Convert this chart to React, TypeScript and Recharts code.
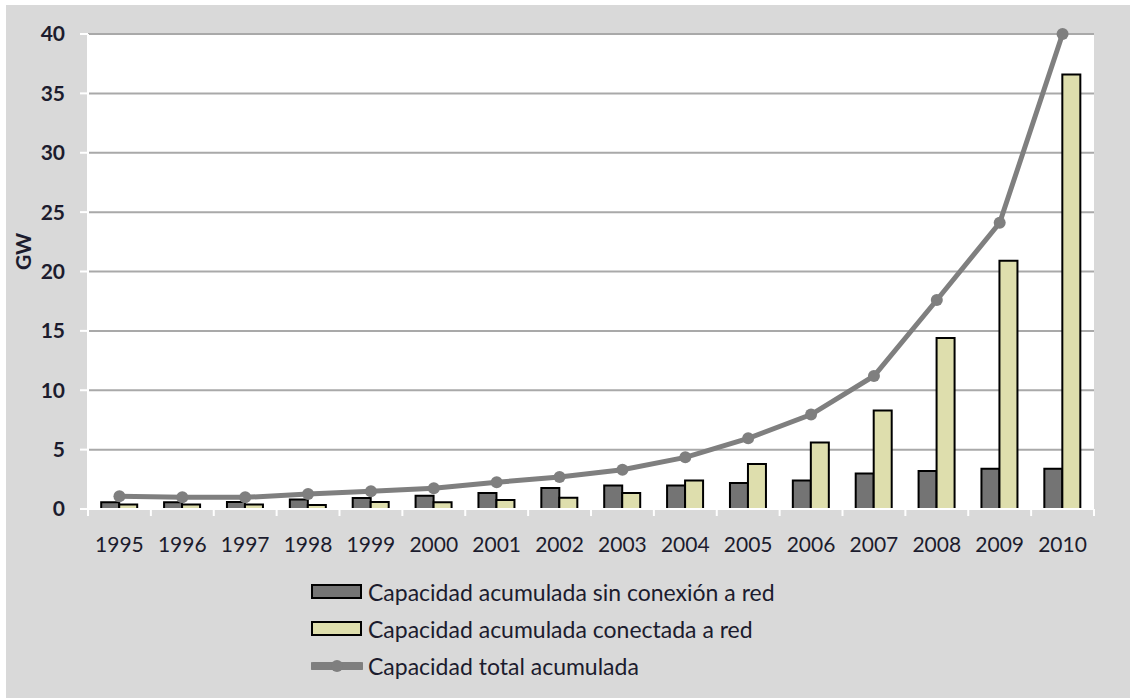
import React from 'react';
import {
    ComposedChart,
    Bar,
    Line,
    XAxis,
    YAxis,
    CartesianGrid,
    Legend,
} from 'recharts';

// Capacidad fotovoltaica acumulada (GW)
const years = ['1995', '1996', '1997', '1998', '1999', '2000', '2001', '2002', '2003', '2004', '2005', '2006', '2007', '2008', '2009', '2010'];
const offGrid = [0.56, 0.56, 0.6, 0.8, 0.93, 1.12, 1.35, 1.77, 1.97, 1.97, 2.2, 2.4, 3.0, 3.2, 3.4, 3.4];
const onGrid = [0.37, 0.37, 0.37, 0.34, 0.6, 0.56, 0.76, 0.95, 1.35, 2.4, 3.8, 5.6, 8.3, 14.4, 20.9, 36.6];
const total = [1.07, 0.98, 0.98, 1.26, 1.49, 1.74, 2.25, 2.7, 3.3, 4.35, 5.95, 7.95, 11.2, 17.6, 24.1, 40.0];
const yTicks = [0, 5, 10, 15, 20, 25, 30, 35, 40];

const seriesNames = {
    offGrid: 'Capacidad acumulada sin conexión a red',
    onGrid: 'Capacidad acumulada conectada a red',
    total: 'Capacidad total acumulada',
};

const data = years.map((year, i) => ({
    year,
    offGrid: offGrid[i],
    onGrid: onGrid[i],
    total: total[i],
}));

const FONT = 'Lato, "DejaVu Sans", sans-serif';
const TEXT = '#1c1c2e';
const GRAY_BAR = '#747474';
const YELLOW_BAR = '#dedead';
const LINE_GRAY = '#7f7f7f';

const YearTick = (props: any) => {
    const { x, y, payload } = props;
    const half = payload.offset || 0;
    const isLast = payload.index === years.length - 1;
    return (
        <g>
            <line x1={x - half} x2={x - half} y1={y} y2={y + 7} stroke="#fff" strokeWidth={2} />
            {isLast && (
                <line x1={x + half} x2={x + half} y1={y} y2={y + 7} stroke="#fff" strokeWidth={2} />
            )}
            <text x={x} y={y + 43} textAnchor="middle" fontFamily={FONT} fontSize={21} fill={TEXT}>
                {payload.value}
            </text>
        </g>
    );
};

const LegendContent = () => {
    const rows = [
        { key: 'offGrid', type: 'rect', color: GRAY_BAR },
        { key: 'onGrid', type: 'rect', color: YELLOW_BAR },
        { key: 'total', type: 'line', color: LINE_GRAY },
    ];
    return (
        <div style={{ fontFamily: FONT, fontSize: 23, color: TEXT, whiteSpace: 'nowrap' }}>
            {rows.map((r) => (
                <div key={r.key} style={{ display: 'flex', alignItems: 'center', height: 37 }}>
                    <svg width={52} height={20} style={{ marginRight: 5 }}>
                        {r.type === 'rect' ? (
                            <rect x={1} y={3} width={49} height={13} fill={r.color} stroke="#000" strokeWidth={2} />
                        ) : (
                            <g>
                                <line x1={2} x2={50} y1={10} y2={10} stroke={r.color} strokeWidth={8} strokeLinecap="round" />
                                <circle cx={26} cy={10} r={6} fill={r.color} />
                            </g>
                        )}
                    </svg>
                    <span>{seriesNames[r.key as keyof typeof seriesNames]}</span>
                </div>
            ))}
        </div>
    );
};

export default function App() {
    return (
        <div style={{ position: 'fixed', left: 0, top: 0, width: 1130, height: 698, background: '#fff' }}>
            <div style={{ position: 'absolute', left: 6, top: 5, width: 1124, height: 693, background: '#d9d9d9' }}>
                <ComposedChart
                    width={1124}
                    height={693}
                    data={data}
                    margin={{ top: 29, right: 36, bottom: 0, left: 0 }}
                    barCategoryGap="21%"
                    barGap={0}
                >
                    <CartesianGrid vertical={false} stroke="#a9a9a9" strokeWidth={2} fill="#ffffff" />
                    <XAxis
                        dataKey="year"
                        height={189}
                        axisLine={{ stroke: '#ffffff', strokeWidth: 2 }}
                        tickLine={false}
                        tickSize={0}
                        tickMargin={0}
                        interval={0}
                        tick={<YearTick />}
                    />
                    <YAxis
                        width={82}
                        domain={[0, 40]}
                        ticks={yTicks}
                        interval={0}
                        axisLine={{ stroke: '#ffffff', strokeWidth: 2 }}
                        tickLine={{ stroke: '#ffffff', strokeWidth: 2 }}
                        tickSize={8}
                        tickMargin={15}
                        tick={{ fontFamily: FONT, fontSize: 21, fontWeight: 700, fill: TEXT }}
                        label={{
                            content: ({ viewBox }: any) => {
                                const cx = viewBox.x + 16;
                                const cy = viewBox.y + viewBox.height / 2 - 20;
                                return (
                                    <text
                                        x={cx}
                                        y={cy}
                                        transform={`rotate(-90, ${cx}, ${cy})`}
                                        textAnchor="middle"
                                        dominantBaseline="central"
                                        fontFamily={FONT}
                                        fontSize={21}
                                        fontWeight={700}
                                        fill={TEXT}
                                    >
                                        GW
                                    </text>
                                );
                            },
                        }}
                    />
                    <Bar dataKey="offGrid" name={seriesNames.offGrid} fill={GRAY_BAR} stroke="#000" strokeWidth={2} isAnimationActive={false} />
                    <Bar dataKey="onGrid" name={seriesNames.onGrid} fill={YELLOW_BAR} stroke="#000" strokeWidth={2} isAnimationActive={false} />
                    <Line
                        dataKey="total"
                        name={seriesNames.total}
                        type="linear"
                        stroke={LINE_GRAY}
                        strokeWidth={5}
                        dot={{ r: 6, fill: LINE_GRAY, stroke: LINE_GRAY, strokeWidth: 0 }}
                        isAnimationActive={false}
                    />
                    <Legend
                        layout="vertical"
                        align="center"
                        verticalAlign="middle"
                        content={<LegendContent />}
                        wrapperStyle={{ top: 568, left: 305, width: 'auto' }}
                    />
                </ComposedChart>
            </div>
        </div>
    );
}
